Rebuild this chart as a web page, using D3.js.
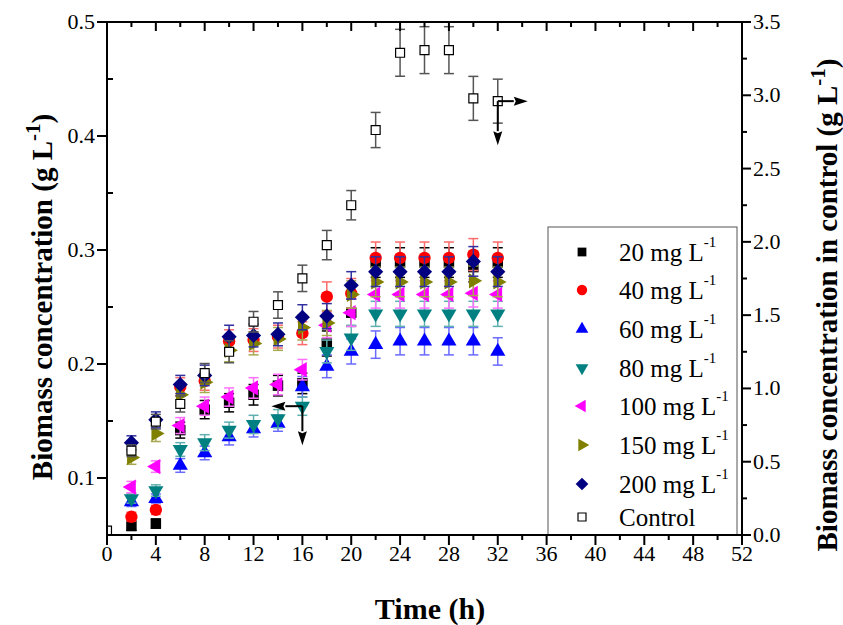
<!DOCTYPE html>
<html><head><meta charset="utf-8">
<script src="https://cdn.jsdelivr.net/npm/d3@7"></script>
<style>body{margin:0;background:#fff}svg{display:block}</style>
</head><body><svg id="c" width="843" height="625"></svg>
<script>
const times = [2,4,6,8,10,12,14,16,18,20,22,24,26,28,30,32];
const controlTimes = [0,2,4,6,8,10,12,14,16,18,20,22,24,26,28,30,32];
const s20  = [0.058,0.060,0.142,0.160,0.166,0.173,0.181,0.183,0.218,0.245,0.289,0.289,0.289,0.289,0.285,0.289];
const s40  = [0.066,0.072,0.180,0.185,0.220,0.221,0.224,0.227,0.259,0.262,0.293,0.293,0.293,0.293,0.296,0.293];
const s60  = [0.079,0.082,0.111,0.122,0.136,0.143,0.148,0.180,0.198,0.211,0.217,0.220,0.220,0.220,0.220,0.211];
const s80  = [0.082,0.089,0.125,0.131,0.142,0.147,0.152,0.163,0.211,0.223,0.244,0.244,0.244,0.244,0.244,0.244];
const s100 = [0.092,0.110,0.146,0.163,0.171,0.179,0.182,0.195,0.234,0.245,0.261,0.261,0.261,0.261,0.262,0.261];
const s150 = [0.118,0.139,0.173,0.184,0.212,0.218,0.222,0.232,0.236,0.261,0.272,0.272,0.272,0.272,0.273,0.272];
const s200 = [0.131,0.151,0.182,0.190,0.224,0.225,0.226,0.241,0.242,0.269,0.281,0.281,0.281,0.281,0.290,0.281];
const e20  = [0.004,0.004,0.007,0.008,0.008,0.009,0.009,0.009,0.011,0.012,0.013,0.013,0.013,0.013,0.013,0.013];
const e40  = [0.004,0.004,0.008,0.008,0.010,0.010,0.010,0.010,0.013,0.013,0.014,0.014,0.014,0.014,0.014,0.014];
const e60  = [0.004,0.004,0.006,0.006,0.007,0.007,0.007,0.009,0.010,0.011,0.012,0.012,0.012,0.012,0.012,0.012];
const e80  = [0.004,0.005,0.006,0.007,0.007,0.008,0.008,0.008,0.010,0.011,0.011,0.011,0.011,0.011,0.011,0.011];
const e100 = [0.005,0.005,0.007,0.008,0.008,0.009,0.009,0.009,0.011,0.012,0.012,0.012,0.012,0.012,0.012,0.012];
const e150 = [0.006,0.007,0.008,0.009,0.010,0.010,0.010,0.011,0.011,0.012,0.013,0.013,0.013,0.013,0.013,0.013];
const e200 = [0.006,0.007,0.008,0.009,0.010,0.010,0.010,0.011,0.011,0.012,0.013,0.013,0.013,0.013,0.013,0.013];
const control    = [0.03,0.575,0.773,0.894,1.105,1.25,1.455,1.569,1.751,1.978,2.25,2.763,3.29,3.308,3.308,2.979,2.96];
const controlErr = [0,0.04,0.05,0.055,0.065,0.075,0.07,0.09,0.09,0.10,0.10,0.12,0.16,0.16,0.16,0.15,0.15];
const seriesNames = ["20 mg L","40 mg L","60 mg L","80 mg L","100 mg L","150 mg L","200 mg L"];
const xTicks = [0,4,8,12,16,20,24,28,32,36,40,44,48,52];
const yLeftTicks = [0.1,0.2,0.3,0.4,0.5];
const yRightTicks = [0,0.5,1.0,1.5,2.0,2.5,3.0,3.5];

const FONT = "'Liberation Serif'";
const svg = d3.select("#c");
const L = 107, R = 742, T = 22, B = 535;
const x = d3.scaleLinear().domain([0,52]).range([L,R]);
const yL = d3.scaleLinear().domain([0.05,0.5]).range([B,T]);
const yR = d3.scaleLinear().domain([0,3.5]).range([B,T]);

const sym = (type, size, rot) => ({type, size, rot});
const styles = [
  {vals:s20, err:e20, color:"#000000", ecol:"#000000", m:sym(d3.symbolSquare,110,0)},
  {vals:s40, err:e40, color:"#ff0000", ecol:"#ff6a6a", m:sym(d3.symbolCircle,120,0)},
  {vals:s60, err:e60, color:"#0000ff", ecol:"#6a6aff", m:sym(d3.symbolTriangle,100,0)},
  {vals:s80, err:e80, color:"#008080", ecol:"#60b0b0", m:sym(d3.symbolTriangle,100,180)},
  {vals:s100,err:e100,color:"#ff00ff", ecol:"#ff70ff", m:sym(d3.symbolTriangle,100,-90)},
  {vals:s150,err:e150,color:"#808000", ecol:"#a8a850", m:sym(d3.symbolTriangle,100,90)},
  {vals:s200,err:e200,color:"#000080", ecol:"#3030a0", m:sym(d3.symbolSquare,115,45)},
];

svg.append("defs").append("clipPath").attr("id","clip")
  .append("rect").attr("x",L).attr("y",T).attr("width",R-L).attr("height",B-T);
const plot = svg.append("g").attr("clip-path","url(#clip)");

// legend box
svg.append("rect").attr("x",548).attr("y",227).attr("width",189).attr("height",308)
  .attr("fill","none").attr("stroke","#555").attr("stroke-width",1);

function errBars(g, xs, vals, errs, ys, col){
  xs.forEach((t,i)=>{
    if(!errs[i]) return;
    const cx = x(t), y1 = ys(vals[i]+errs[i]), y2 = ys(vals[i]-errs[i]);
    g.append("line").attr("x1",cx).attr("x2",cx).attr("y1",y1).attr("y2",y2).attr("stroke",col).attr("stroke-width",1.5);
    [y1,y2].forEach(yy=>g.append("line").attr("x1",cx-5).attr("x2",cx+5).attr("y1",yy).attr("y2",yy).attr("stroke",col).attr("stroke-width",1.5));
  });
}
styles.forEach(s=>{
  const g = plot.append("g");
  errBars(g, times, s.vals, s.err, yL, s.ecol);
  g.selectAll("path").data(times).enter().append("path")
    .attr("d", d3.symbol().type(s.m.type).size(s.m.size))
    .attr("transform",(t,i)=>`translate(${x(t)},${yL(s.vals[i])}) rotate(${s.m.rot})`)
    .attr("fill",s.color);
});
{
  const g = plot.append("g");
  errBars(g, controlTimes, control, controlErr, yR, "#555");
  g.selectAll("path").data(controlTimes).enter().append("path")
    .attr("d", d3.symbol().type(d3.symbolSquare).size(80))
    .attr("transform",(t,i)=>`translate(${x(t)},${yR(control[i])})`)
    .attr("fill","#fff").attr("stroke","#000").attr("stroke-width",1.2);
}

// arrows
function arrow(x1,y1,x2,y2){
  const ang = Math.atan2(y2-y1,x2-x1), hl=14, hw=4.5;
  const bx = x2 - hl*Math.cos(ang), by = y2 - hl*Math.sin(ang);
  svg.append("line").attr("x1",x1).attr("y1",y1).attr("x2",bx).attr("y2",by).attr("stroke","#000").attr("stroke-width",2);
  const px = -Math.sin(ang)*hw, py = Math.cos(ang)*hw;
  svg.append("path").attr("d",`M${x2},${y2}L${bx+px},${by+py}L${bx+2*Math.cos(ang)},${by+2*Math.sin(ang)}L${bx-px},${by-py}Z`).attr("fill","#000");
}
{
  const ax = x(controlTimes[16]), ay = yR(control[16]);
  arrow(ax, ay, ax+30, ay);
  arrow(ax, ay, ax, ay+44);
  const bx = x(times[7]), by = yL(s80[7]);
  arrow(bx, by, bx-31, by);
  arrow(bx, by, bx, by+39);
}

// axes
const ax = svg.append("g").attr("stroke","#000").attr("fill","none");
ax.append("line").attr("x1",L).attr("x2",R).attr("y1",B).attr("y2",B).attr("stroke-width",2);
ax.append("line").attr("x1",L).attr("x2",R).attr("y1",T).attr("y2",T).attr("stroke-width",2);
ax.append("line").attr("x1",L).attr("x2",L).attr("y1",T).attr("y2",B).attr("stroke-width",2);
ax.append("line").attr("x1",R).attr("x2",R).attr("y1",T).attr("y2",B).attr("stroke-width",2);
d3.range(0,53,2).forEach(t=>{
  const major = t%4===0;
  ax.append("line").attr("x1",x(t)).attr("x2",x(t)).attr("y1",B).attr("y2",B+(major?10:5)).attr("stroke-width",2);
  ax.append("line").attr("x1",x(t)).attr("x2",x(t)).attr("y1",T).attr("y2",T+(major?9:5)).attr("stroke-width",2);
});
d3.range(0.05,0.501,0.05).forEach(v=>{
  const major = Math.round(v*100)%10===0;
  if(major) ax.append("line").attr("x1",L-10).attr("x2",L).attr("y1",yL(v)).attr("y2",yL(v)).attr("stroke-width",2);
  else ax.append("line").attr("x1",L).attr("x2",L+6).attr("y1",yL(v)).attr("y2",yL(v)).attr("stroke-width",2);
});
d3.range(0,3.51,0.25).forEach(v=>{
  const major = Math.round(v*100)%50===0;
  ax.append("line").attr("x1",R).attr("x2",R+(major?9:5)).attr("y1",yR(v)).attr("y2",yR(v)).attr("stroke-width",2);
});
const tf = svg.append("g").attr("font-size",22).attr("fill","#000");
xTicks.forEach(t=>tf.append("text").attr("x",x(t)).attr("y",B+26).attr("text-anchor","middle").text(t));
yLeftTicks.forEach(v=>tf.append("text").attr("x",L-12).attr("y",yL(v)+7).attr("text-anchor","end").text(d3.format(".1f")(v)));
yRightTicks.forEach(v=>tf.append("text").attr("x",R+11).attr("y",yR(v)+7).attr("text-anchor","start").text(d3.format(".1f")(v)));

// titles
svg.append("text").attr("x",430).attr("y",619).attr("text-anchor","middle").attr("font-size",30).attr("font-weight","bold").text("Time (h)");
function vtitle(cx, cy, label){
  const t = svg.append("text").attr("transform",`translate(${cx},${cy}) rotate(-90)`).attr("text-anchor","middle")
    .attr("font-size",29).attr("font-weight","bold");
  t.append("tspan").text(label+" (g L");
  t.append("tspan").attr("dy",-12).attr("font-size",21).text("-1");
  t.append("tspan").attr("dy",12).text(")");
}
vtitle(52, 297, "Biomass concentration");
vtitle(837, 305, "Biomass concentration in control");

// legend
const lg = svg.append("g");
const legendY = [252,290,329,368,406,445,484];
styles.forEach((s,i)=>{
  lg.append("path").attr("d",d3.symbol().type(s.m.type).size(s.m.size*0.7))
    .attr("transform",`translate(582,${legendY[i]}) rotate(${s.m.rot})`).attr("fill",s.color);
  const t = lg.append("text").attr("x",619).attr("y",legendY[i]+9).attr("font-size",25);
  t.append("tspan").text(seriesNames[i]);
  t.append("tspan").attr("dy",-14).attr("font-size",15).text("-1");
});
lg.append("path").attr("d",d3.symbol().type(d3.symbolSquare).size(64))
  .attr("transform",`translate(582,517)`).attr("fill","#fff").attr("stroke","#000").attr("stroke-width",1.2);
lg.append("text").attr("x",619).attr("y",526).attr("font-size",25).text("Control");

svg.selectAll("text").style("font-family",FONT);
</script></body></html>
